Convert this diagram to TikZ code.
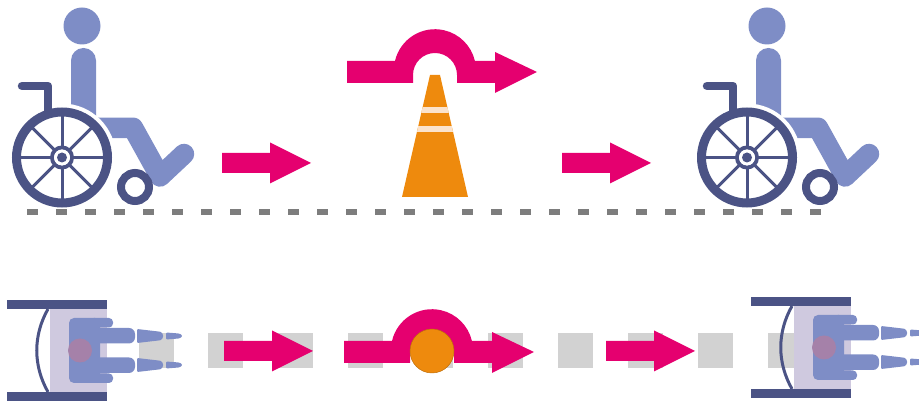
\documentclass[tikz,border=0pt]{standalone}
\usepackage{tikz}
\definecolor{wcdark}{HTML}{4B5385}
\definecolor{wcbody}{HTML}{7E8DC6}
\definecolor{wchead}{HTML}{A581A9}
\definecolor{wcseat}{HTML}{CFC9DF}
\definecolor{wcpath}{HTML}{D2D2D2}
\definecolor{wcdash}{HTML}{7D7D7D}
\definecolor{wcarrow}{HTML}{E5006F}
\definecolor{wccone}{HTML}{EE8A0D}
\definecolor{wcband}{HTML}{FBE3CC}
\tikzset{
  bodyfill/.style={fill=wcbody,draw=none},
  frameline/.style={draw=wcdark,line width=#1},
  pathsq/.style={fill=wcpath,draw=none,minimum size=35pt,inner sep=0pt,outer sep=0pt},
  arrowfill/.style={fill=wcarrow,draw=none},
  sidechair/.pic={
    \fill[bodyfill] (20,131.5) circle (18.5);
    \fill[bodyfill] (9,40)--(9,97) arc[start angle=180,end angle=0,radius=12.5]--(34,40)--cycle;
    \draw[wcbody,line width=20.5,line join=round,line cap=round] (35,29.7)--(71,29.7)--(98,-19)--(122,3.5);
    \fill[white] (0,0) circle (54);
    \draw[frameline=8.5,line cap=round,line join=round] (-40,71.5)--(-14,71.5)--(-14,46);
    \draw[frameline=9] (0,0) circle (45.5);
    \foreach \a in {0,45,...,315}
      \draw[frameline=3] (\a:10)--(\a:42);
    \draw[frameline=4] (0,0) circle (10);
    \fill[white] (0,0) circle (8);
    \fill[wcdark] (0,0) circle (5);
    \draw[frameline=8] (73,-29.5) circle (14);
  },
  topchair/.pic={
    \fill[wcseat] (50,-41.5) rectangle (107,41.5);
    \fill[wcdark] (7,41.5) rectangle (107,50.5);
    \fill[wcdark] (7,-41.5) rectangle (107,-50.5);
    \draw[frameline=3] (48,41.5) .. controls (33,15) and (33,-15) .. (48,-41.5);
    \fill[bodyfill,rounded corners=5] (69,-32.5) rectangle (100,32.5);
    \foreach \s in {1,-1} {
      \fill[bodyfill,rounded corners=4] (90,\s*23) rectangle (113,\s*32.5);
      \fill[bodyfill,rounded corners=6] (90,\s*7) rectangle (135,\s*22.5);
      \fill[bodyfill,rounded corners=1] (137,\s*21.5)--(161,\s*18.7)--(163,\s*16)--(163,\s*13)--(161,\s*10.3)--(137,\s*7.5)--cycle;
      \fill[bodyfill,rounded corners=1] (166,\s*18)--(179,\s*17)--(182,\s*15.5)--(182,\s*13.5)--(179,\s*12)--(166,\s*11)--cycle;
    }
    \fill[wchead] (80,0) circle (12);
  },
  detour/.pic={
    \fill[arrowfill] (-88,11)--(-40,11) arc[start angle=167,end angle=13,radius=41]
      --(60,11)--(60,20)--(102,0)--(60,-21)--(60,-11)--(22,-11)--(22,-3)
      arc[start angle=0,end angle=180,radius=22]--(-22,-11)--(-88,-11)--cycle;
  },
  fwdarrow/.pic={
    \fill[arrowfill] (0,10)--(48,10)--(48,20.5)--(89,0)--(48,-20.5)--(48,-10)--(0,-10)--cycle;
  },
}
\begin{document}
\begin{tikzpicture}[x=1pt,y=1pt]
  \useasboundingbox (0,0) rectangle (919,401);
  \clip (0,0) rectangle (919,401);
  % top row
  \pic at (62,243.5) {sidechair};
  \pic at (747,243.5) {sidechair};
  \fill[wccone] (430,326)--(440,326)--(468,204)--(402,204)--cycle;
  \begin{scope}
    \clip (430,326)--(440,326)--(468,204)--(402,204)--cycle;
    \fill[wcband] (395,288) rectangle (475,294);
    \fill[wcband] (395,269) rectangle (475,275);
  \end{scope}
  \pic at (435,329) {detour};
  \pic at (222,238) {fwdarrow};
  \pic at (562,238) {fwdarrow};
  % ground
  \foreach \x in {27,56,...,825}
    \fill[wcdash] (\x,186) rectangle +(11,6);
  % bottom row
  \foreach \x in {139,208,278,348,418,488,558,628,698,768}
    \node[pathsq,anchor=south west] (sq\x) at (\x,33) {};
  \pic at (0,50.5) {topchair};
  \pic at (744,53.5) {topchair};
  \pic at (432,49) {detour};
  \filldraw[fill=wccone,draw=wccone!80!black,line width=0.5] (432,50) circle (22);
  \pic at (224,50) {fwdarrow};
  \pic at (606,50) {fwdarrow};
\end{tikzpicture}
\end{document}
